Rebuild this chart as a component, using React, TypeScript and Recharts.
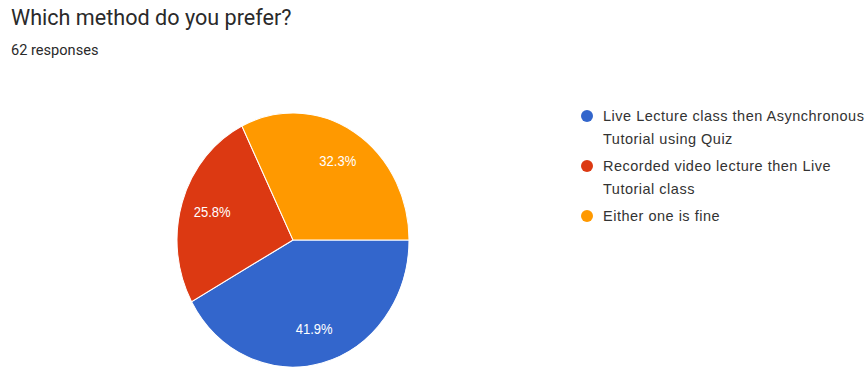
import { PieChart, Pie, Cell } from "recharts";

// Google Forms style response summary
const title = "Which method do you prefer?";
const subtitle = "62 responses";

const options = [
  "Live Lecture class then Asynchronous Tutorial using Quiz",
  "Recorded video lecture then Live Tutorial class",
  "Either one is fine",
];
const legendLines = [
  ["Live Lecture class then Asynchronous", "Tutorial using Quiz"],
  ["Recorded video lecture then Live", "Tutorial class"],
  ["Either one is fine"],
];
const counts = [26, 16, 20];
const colors = ["#3366cc", "#dc3912", "#ff9900"];

const data = options.map((name, i) => ({ name, value: counts[i] }));

const CX = 293;
const CY = 240;
const R = 116;

function renderLabel(props: any) {
  const { cx, cy, midAngle, outerRadius, percent } = props;
  const rad = (Math.PI / 180) * midAngle;
  const d = outerRadius * 0.73;
  const x = cx + d * Math.cos(rad);
  const y = cy - d * Math.sin(rad);
  return (
    <text
      x={x}
      y={y}
      fill="#ffffff"
      textAnchor="middle"
      dominantBaseline="central"
      style={{ fontFamily: "Arial, 'Liberation Sans', sans-serif", fontSize: 13 }}
    >
      {(percent * 100).toFixed(1)}%
    </text>
  );
}

export default function App() {
  return (
    <div
      style={{
        position: "absolute",
        left: 0,
        top: 0,
        width: 868,
        height: 372,
        background: "#ffffff",
        overflow: "hidden",
      }}
    >
      <div
        style={{
          position: "absolute",
          left: 11,
          top: 5,
          fontFamily: "Roboto, Arial, sans-serif",
          fontSize: 21.6,
          color: "#2a2a2a",
          whiteSpace: "nowrap",
        }}
      >
        {title}
      </div>
      <div
        style={{
          position: "absolute",
          left: 11,
          top: 41,
          fontFamily: "Roboto, Arial, sans-serif",
          fontSize: 14.6,
          color: "#2a2a2a",
          whiteSpace: "nowrap",
        }}
      >
        {subtitle}
      </div>

      {/* pie is slightly taller than wide in the reference */}
      <div
        style={{
          position: "absolute",
          left: 0,
          top: 0,
          transform: "scaleY(1.095)",
          transformOrigin: `${CX}px ${CY}px`,
        }}
      >
        <PieChart width={868} height={372} margin={{ top: 0, right: 0, bottom: 0, left: 0 }}>
          <Pie
            data={data}
            dataKey="value"
            nameKey="name"
            cx={CX}
            cy={CY}
            outerRadius={R}
            startAngle={0}
            endAngle={-360}
            stroke="#ffffff"
            strokeWidth={1}
            label={renderLabel}
            labelLine={false}
            isAnimationActive={false}
          >
            {data.map((d, i) => (
              <Cell key={d.name} fill={colors[i]} />
            ))}
          </Pie>
        </PieChart>
      </div>

      {/* legend */}
      <div
        style={{
          position: "absolute",
          left: 581,
          top: 106,
          fontFamily: "Arial, 'Liberation Sans', sans-serif",
          fontSize: 14.5,
          letterSpacing: 0.5,
          color: "#333333",
        }}
      >
        {legendLines.map((lines, i) => (
          <div key={i} style={{ display: "flex", marginBottom: 5 }}>
            <span
              style={{
                width: 12,
                height: 12,
                borderRadius: 6,
                background: colors[i],
                marginTop: 4,
                marginRight: 10,
                flexShrink: 0,
              }}
            />
            <div style={{ lineHeight: "23px", marginTop: -1 }}>
              {lines.map((l) => (
                <div key={l} style={{ whiteSpace: "nowrap" }}>
                  {l}
                </div>
              ))}
            </div>
          </div>
        ))}
      </div>
    </div>
  );
}
